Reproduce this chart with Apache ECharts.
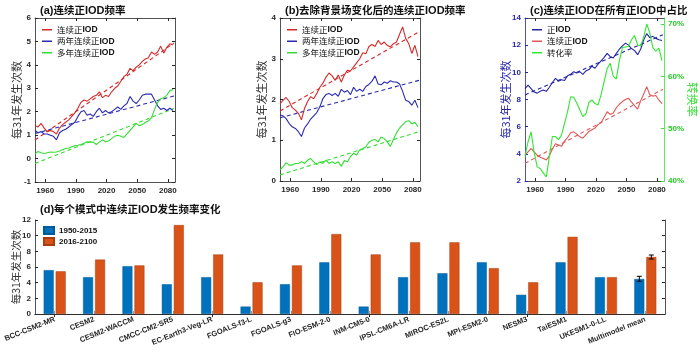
<!DOCTYPE html>
<html><head><meta charset="utf-8">
<script src="https://cdn.jsdelivr.net/npm/echarts@6/dist/echarts.min.js"></script>
<style>html,body{margin:0;padding:0;background:#fff}#c{width:700px;height:361px}</style>
</head><body><div id="c"></div>
<script>
// ---------- data ----------
const YEARS = [1950,1953,1956,1959,1962,1965,1968,1971,1974,1977,1980,1983,1986,1989,1992,1995,1998,2001,2004,2007,2010,2013,2016,2019,2022,2025,2028,2031,2034,2037,2040,2043,2046,2049,2052,2055,2058,2061,2064,2067,2070,2073,2076,2079,2082,2085];
const YEAR_TICKS = [1960,1990,2020,2050,2080];
const TREND_YEARS = [1950, 2086];

// (a)
const A_RED   = [1.4,1.35,1.5,1.3,1.15,1.2,1.15,1.05,1.3,1.45,1.55,1.65,1.8,1.95,2.15,2.4,2.5,2.45,2.55,2.65,2.7,2.85,2.6,2.7,2.65,2.85,3.0,3.1,3.3,3.5,3.6,3.85,3.75,3.9,4.0,4.15,4.25,4.3,4.55,4.45,4.55,4.8,4.5,4.75,4.9,4.85];
const A_BLUE  = [1.2,1.1,1.15,1.05,1.05,1.0,0.95,0.8,1.1,1.2,1.25,1.35,1.45,1.55,1.8,2.0,2.05,1.85,1.9,1.8,2.0,2.15,1.95,2.05,1.95,2.0,2.1,2.2,2.1,2.25,2.35,2.65,2.45,2.35,2.5,2.7,2.75,2.75,2.75,2.5,2.25,2.1,2.15,2.05,2.15,2.05];
const A_GREEN = [0.2,0.3,0.25,0.22,0.25,0.28,0.27,0.28,0.32,0.38,0.43,0.45,0.5,0.55,0.57,0.6,0.65,0.72,0.7,0.7,0.6,0.7,0.8,0.72,0.75,0.85,0.95,1.0,0.95,0.9,1.05,1.2,1.35,1.5,1.4,1.45,1.55,1.6,1.75,2.1,2.4,2.55,2.6,2.7,2.9,2.95];
const A_TREND_RED = [0.79, 4.93];
const A_TREND_BLUE = [1.07, 2.67];
const A_TREND_GREEN = [-0.21, 2.14];

// (b)
const B_RED   = [1.9,1.98,2.05,1.95,1.8,1.74,1.66,1.5,1.78,1.95,2.07,2.02,2.15,2.3,2.4,2.55,2.65,2.58,2.47,2.6,2.43,2.6,2.72,2.7,2.8,2.9,3.0,3.15,3.12,3.3,3.35,3.3,3.45,3.35,3.41,3.33,3.29,3.37,3.41,3.6,3.78,3.5,3.37,3.13,3.33,3.05];
const B_BLUE  = [1.62,1.6,1.53,1.41,1.33,1.29,1.21,1.09,1.3,1.4,1.52,1.6,1.68,1.82,2.02,2.12,2.15,2.1,2.15,2.08,2.25,2.18,2.22,2.12,2.3,2.2,2.25,2.2,2.32,2.37,2.45,2.58,2.38,2.36,2.43,2.4,2.46,2.43,2.43,2.38,2.2,1.98,1.95,1.86,1.98,1.8];
const B_GREEN = [0.27,0.35,0.45,0.39,0.39,0.43,0.43,0.47,0.43,0.51,0.55,0.47,0.4,0.47,0.43,0.51,0.43,0.47,0.43,0.47,0.36,0.5,0.47,0.6,0.68,0.64,0.76,0.8,0.84,0.95,1.0,1.02,0.96,1.08,1.04,0.96,0.85,1.02,1.18,1.3,1.38,1.46,1.48,1.4,1.44,1.33];
const B_TREND_RED = [1.72, 3.66];
const B_TREND_BLUE = [1.55, 2.47];
const B_TREND_GREEN = [0.15, 1.21];

// (c)
const C_BLUE  = [8.8,9.05,8.8,8.55,8.47,8.6,8.7,8.6,8.9,9.25,9.55,9.35,9.45,9.4,9.75,9.85,10.05,9.95,10.05,9.85,10.1,10.2,10.45,10.3,10.6,10.85,11.1,11.4,11.15,11.05,11.4,11.7,11.95,12.15,12.0,11.75,11.6,11.3,11.7,12.4,12.85,12.55,12.65,12.5,12.4,12.35];
const C_RED   = [3.9,4.15,4.4,4.15,3.9,3.75,3.65,3.55,3.85,4.35,4.75,4.65,4.55,4.95,5.2,5.55,5.62,5.45,5.25,5.15,5.4,5.65,5.78,5.9,6.15,6.3,6.7,7.1,6.9,7.0,7.4,7.65,7.85,8.0,8.1,7.8,7.55,7.3,7.9,8.4,8.95,8.35,8.25,8.3,7.95,7.7];
const C_GREEN = [44.7,47.5,49.4,45.5,42.7,42.4,41.5,40.8,44.7,48.5,48.5,47.9,48.8,51.0,53.3,56.1,56.0,54.9,53.6,52.3,52.8,55.0,55.5,54.8,54.5,56.5,59.0,61.5,62.5,60.0,59.5,63.0,65.5,65.6,65.7,67.0,67.8,66.0,65.8,67.5,70.0,68.3,65.5,64.8,65.4,63.0];
const C_TREND_BLUE = [8.34, 12.77];
const C_TREND_RED = [3.3, 8.76];
const C_PCT_TICKS = [40,50,60,70];

// (d)
const MODELS = ['BCC-CSM2-MR','CESM2','CESM2-WACCM','CMCC-CM2-SR5','EC-Earth3-Veg-LR','FGOALS-f3-L','FGOALS-g3','FIO-ESM-2-0','INM-CM5-0','IPSL-CM6A-LR','MIROC-ES2L','MPI-ESM2-0','NESM3','TaiESM1','UKESM1-0-LL','Multimodel mean'];
const P1 = [5.6,4.7,6.1,3.8,4.7,0.95,3.8,6.6,0.95,4.7,5.2,6.6,2.45,6.6,4.7,4.47];
const P2 = [5.45,6.95,6.2,11.35,7.6,4.05,6.2,10.2,7.6,9.15,9.15,5.85,4.05,9.85,4.7,7.28];
const ERR_P1 = [4.18, 4.81];
const ERR_P2 = [7.02, 7.53];

// ---------- style ----------
const CJK = 'Noto Sans CJK SC';
const LAT = 'Liberation Sans';
const AX = '#262626';
const RED = '#d42a2a', BLUE = '#2b2bb0', GREEN = '#33dd33';
const C_RED_COL = '#e05656', C_BLUE_COL = '#2424a8', C_GREEN_COL = '#2ee82e';
const BAR1 = '#0072BD', BAR2 = '#D95319';

const pts = v => YEARS.map((y, i) => [y, v[i]]);
const tpts = v => TREND_YEARS.map((y, i) => [y, v[i]]);

const rich = {
  b: {fontFamily: LAT, fontWeight: 'bold', fontSize: 11, color: '#111'},
  c: {fontFamily: CJK, fontSize: 10.5, color: '#111'}
};
function titleRich(s) {
  return s.replace(/(\([a-d]\)|IOD)/g, '\u0001$1\u0002').split(/[\u0001\u0002]/).filter(x => x).map(p =>
    (/^(\([a-d]\)|IOD)$/.test(p) ? '{b|' + p + '}' : '{c|' + p + '}')).join('');
}
function legendFmt(n) {
  const t = n.indexOf('|') >= 0 ? n.split('|')[1] : n;
  return t.replace(/([^IOD]+)/g, '{c|$1}').replace(/IOD/g, '{b|IOD}');
}
const legRich = {
  b: {fontFamily: LAT, fontWeight: 'bold', fontSize: 8.5, color: '#111'},
  c: {fontFamily: CJK, fontSize: 8.5, color: '#111'}
};

function xYear(grid, top, col) {
  return {
    type: 'value', gridIndex: grid, min: 1950, max: 2087, position: top ? 'top' : 'bottom',
    axisLine: {show: true, onZero: false, lineStyle: {color: col || AX, width: 0.8}},
    axisTick: {show: true, inside: true, length: 3, customValues: YEAR_TICKS, lineStyle: {color: AX}},
    axisLabel: {show: !top, customValues: YEAR_TICKS, formatter: v => String(v), fontFamily: LAT, fontWeight: 'bold', fontSize: 8, color: AX, margin: 5},
    splitLine: {show: false}
  };
}
function yVal(grid, min, max, interval, right, col, name, nameGap, showLabel, nameSize) {
  return {
    type: 'value', gridIndex: grid, min: min, max: max, interval: interval, position: right ? 'right' : 'left',
    axisLine: {show: true, onZero: false, lineStyle: {color: col || AX, width: 0.8}},
    axisTick: {show: true, inside: true, length: 3, lineStyle: {color: col || AX}},
    axisLabel: {show: showLabel !== false, fontFamily: LAT, fontWeight: 'bold', fontSize: 8, color: col || AX, margin: 4},
    splitLine: {show: false},
    name: name || '', nameLocation: 'middle', nameGap: nameGap || 15, nameMoveOverlap: false,
    nameTextStyle: {fontFamily: CJK, fontSize: nameSize || 11, color: col || '#333'}
  };
}

function line(name, xi, yi, data, color, dashed) {
  return {
    type: 'line', name: name, xAxisIndex: xi, yAxisIndex: yi, data: data,
    symbol: 'none', showSymbol: false, silent: true, animation: false,
    lineStyle: {width: 1.1, color: color, type: dashed ? [4, 3] : 'solid'},
    itemStyle: {color: color}, z: dashed ? 2 : 3
  };
}

const option = {
  animation: false,
  backgroundColor: '#fff',
  title: [
    {text: titleRich('(a)连续正IOD频率'), left: 35, top: 0, textStyle: {rich: rich}},
    {text: titleRich('(b)去除背景场变化后的连续正IOD频率'), left: 280, top: 0, textStyle: {rich: rich}},
    {text: titleRich('(c)连续正IOD在所有正IOD中占比'), left: 525, top: 0, textStyle: {rich: rich}},
    {text: titleRich('(d)每个模式中连续正IOD发生频率变化'), left: 35, top: 199, textStyle: {rich: rich}}
  ],
  grid: [
    {left: 35, top: 18, width: 140, height: 164},
    {left: 280, top: 18, width: 140, height: 163},
    {left: 525, top: 18, width: 139, height: 163},
    {left: 35, top: 220, width: 630, height: 94}
  ],
  legend: [
    {orient: 'vertical', left: 37, top: 19, itemGap: 0, icon: 'rect', itemWidth: 10, itemHeight: 1.5,
     data: ['a|连续正IOD', 'a|两年连续正IOD', 'a|多年连续正IOD'], formatter: legendFmt,
     textStyle: {lineHeight: 11.5, rich: legRich}, selectedMode: false},
    {orient: 'vertical', left: 282, top: 19, itemGap: 0, icon: 'rect', itemWidth: 10, itemHeight: 1.5,
     data: ['b|连续正IOD', 'b|两年连续正IOD', 'b|多年连续正IOD'], formatter: legendFmt,
     textStyle: {lineHeight: 11.5, rich: legRich}, selectedMode: false},
    {orient: 'vertical', left: 527, top: 19, itemGap: 0, icon: 'rect', itemWidth: 10, itemHeight: 1.5,
     data: ['c|正IOD', 'c|连续正IOD', 'c|转化率'], formatter: legendFmt,
     textStyle: {lineHeight: 11.5, rich: legRich}, selectedMode: false},
    {orient: 'vertical', left: 38, top: 221, itemGap: 2, icon: 'rect', itemWidth: 10, itemHeight: 7,
     data: ['1950-2015', '2016-2100'],
     textStyle: {fontFamily: LAT, fontWeight: 'bold', fontSize: 8, color: '#111'}, selectedMode: false}
  ],
  xAxis: [
    xYear(0, false), xYear(0, true),
    xYear(1, false), xYear(1, true),
    xYear(2, false), xYear(2, true),
    {type: 'category', gridIndex: 3, data: MODELS, position: 'bottom',
     axisLine: {show: true, lineStyle: {color: AX, width: 0.8}},
     axisTick: {show: true, inside: true, alignWithLabel: true, length: 3, lineStyle: {color: '#999'}},
     axisLabel: {interval: 0, rotate: 22, fontFamily: LAT, fontWeight: 'bold', fontSize: 7.5, color: AX, margin: 5}},
    {type: 'category', gridIndex: 3, data: MODELS, position: 'top',
     axisLine: {show: true, lineStyle: {color: AX, width: 0.8}},
     axisTick: {show: true, inside: true, alignWithLabel: true, length: 3, lineStyle: {color: AX}},
     axisLabel: {show: false}}
  ],
  yAxis: [
    yVal(0, -1, 6, 1, false, null, '每31年发生次数', 13),
    yVal(0, -1, 6, 1, true, null, '', 0, false),
    yVal(1, 0, 4, 1, false, null, '每31年发生次数', 13),
    yVal(1, 0, 4, 1, true, null, '', 0, false),
    yVal(2, 2, 14, 2, false, C_BLUE_COL, '每31年发生次数', 14),
    Object.assign(yVal(2, 40, 71.15, null, true, C_GREEN_COL, '转换率', 23), {
      nameRotate: -90,
      axisLabel: {customValues: C_PCT_TICKS, formatter: v => v + '%', fontFamily: LAT, fontWeight: 'bold', fontSize: 8, color: '#22cc22', margin: 4},
      axisTick: {show: true, inside: true, length: 3, customValues: C_PCT_TICKS, lineStyle: {color: C_GREEN_COL}},
      nameTextStyle: {fontFamily: CJK, fontSize: 11.5, color: '#33dd33'}
    }),
    yVal(3, 0, 12, 2, false, null, '每31年发生次数', 14, true, 10.5),
    yVal(3, 0, 12, 2, true, null, '', 0, false)
  ],
  series: [
    line('a|连续正IOD', 0, 0, pts(A_RED), RED),
    line('a|两年连续正IOD', 0, 0, pts(A_BLUE), BLUE),
    line('a|多年连续正IOD', 0, 0, pts(A_GREEN), GREEN),
    line('a_tr', 0, 0, tpts(A_TREND_RED), RED, true),
    line('a_tb', 0, 0, tpts(A_TREND_BLUE), BLUE, true),
    line('a_tg', 0, 0, tpts(A_TREND_GREEN), GREEN, true),

    line('b|连续正IOD', 2, 2, pts(B_RED), RED),
    line('b|两年连续正IOD', 2, 2, pts(B_BLUE), BLUE),
    line('b|多年连续正IOD', 2, 2, pts(B_GREEN), GREEN),
    line('b_tr', 2, 2, tpts(B_TREND_RED), RED, true),
    line('b_tb', 2, 2, tpts(B_TREND_BLUE), BLUE, true),
    line('b_tg', 2, 2, tpts(B_TREND_GREEN), GREEN, true),

    line('c|正IOD', 4, 4, pts(C_BLUE), C_BLUE_COL),
    line('c|连续正IOD', 4, 4, pts(C_RED), C_RED_COL),
    line('c|转化率', 4, 5, pts(C_GREEN), C_GREEN_COL),
    line('c_tb', 4, 4, tpts(C_TREND_BLUE), C_BLUE_COL, true),
    line('c_tr', 4, 4, tpts(C_TREND_RED), C_RED_COL, true),

    {type: 'bar', name: '1950-2015', xAxisIndex: 6, yAxisIndex: 6, data: P1, barWidth: 10, barGap: '20%',
     itemStyle: {color: BAR1, borderColor: '#005a96', borderWidth: 0.5}, silent: true},
    {type: 'bar', name: '2016-2100', xAxisIndex: 6, yAxisIndex: 6, data: P2, barWidth: 10, barGap: '20%',
     itemStyle: {color: BAR2, borderColor: '#a83f12', borderWidth: 0.5}, silent: true},
    {type: 'custom', name: 'err', xAxisIndex: 6, yAxisIndex: 6, silent: true, z: 10,
     data: [[MODELS.length - 1, ERR_P1[0], ERR_P1[1], -6], [MODELS.length - 1, ERR_P2[0], ERR_P2[1], 6]],
     renderItem: function (params, api) {
       const lo = api.coord([api.value(0), api.value(1)]);
       const hi = api.coord([api.value(0), api.value(2)]);
       const x = lo[0] + api.value(3);
       const st = {stroke: '#000', lineWidth: 1};
       return {type: 'group', children: [
         {type: 'line', shape: {x1: x, y1: lo[1], x2: x, y2: hi[1]}, style: st},
         {type: 'line', shape: {x1: x - 2.5, y1: lo[1], x2: x + 2.5, y2: lo[1]}, style: st},
         {type: 'line', shape: {x1: x - 2.5, y1: hi[1], x2: x + 2.5, y2: hi[1]}, style: st}
       ]};
     }}
  ]
};
const chart = echarts.init(document.getElementById('c'), null, {renderer: 'canvas'});
chart.setOption(option);
</script></body></html>
